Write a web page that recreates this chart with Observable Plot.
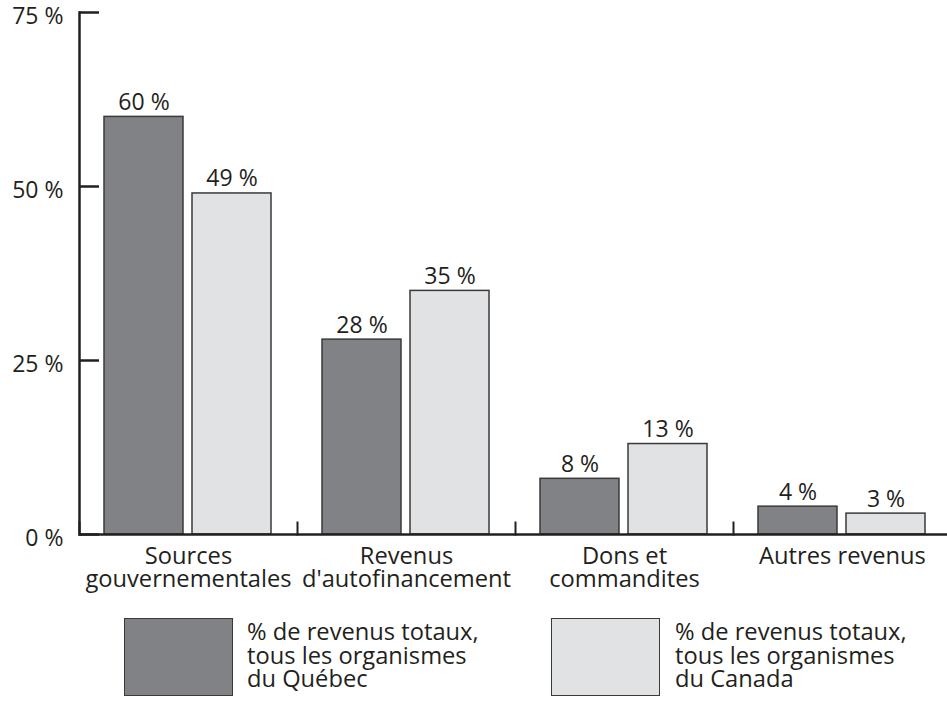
<!DOCTYPE html>
<html>
<head>
<meta charset="utf-8">
<script src="https://cdn.jsdelivr.net/npm/d3@7"></script>
<script src="https://cdn.jsdelivr.net/npm/@observablehq/plot@0.6"></script>
<style>
  body { margin: 0; background: #fff; font-family: "Open Sans", sans-serif; color: #231f20; }
  #wrap { position: relative; width: 947px; height: 702px; overflow: hidden; }
  #chart { position: absolute; left: 0; top: 0; }
  .sw { position: absolute; top: 618px; width: 109px; height: 78px; box-sizing: border-box; border: 1.5px solid #3a3a3a; }
  .lt { position: absolute; top: 620px; font-size: 23.7px; line-height: 23.5px; white-space: pre; }
</style>
</head>
<body>
<div id="wrap">
  <div id="chart"></div>
</div>
<script>
const categories = ["Sources\ngouvernementales", "Revenus\nd'autofinancement", "Dons et\ncommandites", "Autres revenus"];
const series = ["Québec", "Canada"];
const quebecValues = [60, 28, 8, 4];
const canadaValues = [49, 35, 13, 3];
const yTicks = [0, 25, 50, 75];
const seriesColors = ["#808285", "#e1e2e4"];
const legendLabels = ["% de revenus totaux,\ntous les organismes\ndu Québec", "% de revenus totaux,\ntous les organismes\ndu Canada"];

const rows = categories.flatMap((c, i) => [
  {category: c, series: series[0], value: quebecValues[i]},
  {category: c, series: series[1], value: canadaValues[i]}
]);

const ink = "#231f20";

const chart = Plot.plot({
  width: 947,
  height: 610,
  marginLeft: 79,
  marginRight: -4,
  marginTop: 12,
  marginBottom: 76,
  style: {fontFamily: "Open Sans", fontSize: "23px", color: ink, background: "white", overflow: "hidden"},
  fx: {domain: categories, padding: 0, label: null},
  x: {domain: series, paddingInner: 9 / 89, paddingOuter: 25 / 89, axis: null},
  y: {domain: [0, 75], label: null},
  color: {domain: series, range: seriesColors},
  marks: [
    Plot.barY(rows, {fx: "category", x: "series", y: "value", fill: "series", stroke: "#3a3a3a", strokeWidth: 1.5}),
    Plot.text(rows, {fx: "category", x: "series", y: "value", text: d => d.value + " %", lineAnchor: "bottom", dy: -7, fill: ink, fontSize: 23}),
    Plot.ruleY([0], {stroke: ink, strokeWidth: 2.5}),
    Plot.ruleY(yTicks, {facetAnchor: "left", insetRight: 218 - 20, stroke: ink, strokeWidth: 2.5}),
    Plot.frame({anchor: "left", facetAnchor: "left", stroke: ink, strokeWidth: 2.5}),
    Plot.frame({anchor: "left", insetTop: 510, stroke: ink, strokeWidth: 2}),
    Plot.axisY({ticks: yTicks, tickFormat: d => d + " %", tickSize: 0, tickPadding: 16, dy: 4, label: null, fontSize: 23, fill: ink}),
    Plot.axisFx({anchor: "bottom", tickSize: 0, tickPadding: 12, label: null, lineHeight: 1.01, fontSize: 23.7, fill: ink})
  ]
});
document.getElementById("chart").appendChild(chart);

const wrap = document.getElementById("wrap");
const swatchLeft = [124, 551];
const textLeft = [247, 675];
series.forEach((s, i) => {
  const sw = document.createElement("div");
  sw.className = "sw";
  sw.style.left = swatchLeft[i] + "px";
  sw.style.background = seriesColors[i];
  wrap.appendChild(sw);
  const t = document.createElement("div");
  t.className = "lt";
  t.style.left = textLeft[i] + "px";
  t.textContent = legendLabels[i];
  wrap.appendChild(t);
});
</script>
</body>
</html>
